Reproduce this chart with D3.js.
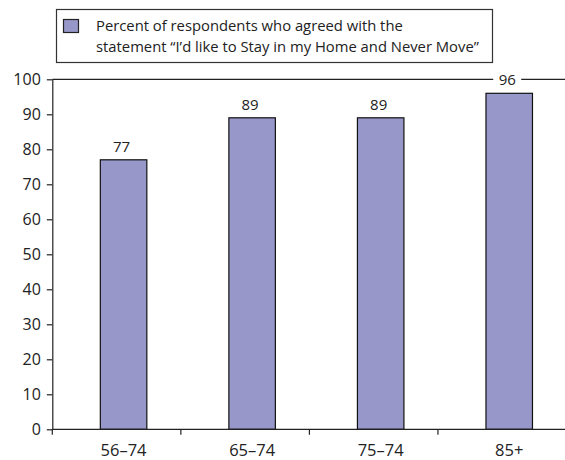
<!DOCTYPE html>
<html>
<head>
<meta charset="utf-8">
<script src="https://cdn.jsdelivr.net/npm/d3@7"></script>
<style>
  html, body { margin: 0; padding: 0; background: #fff; }
  svg { display: block; font-family: "Open Sans", "Noto Sans", sans-serif; }
</style>
</head>
<body>
<svg id="chart" width="565" height="460"></svg>
<script>
// Age groups and share of respondents agreeing (%)
const categories = ["56–74", "65–74", "75–74", "85+"];
const values = [77, 89, 89, 96];
const yTicks = [0, 10, 20, 30, 40, 50, 60, 70, 80, 90, 100];
const legendLines = [
  "Percent of respondents who agreed with the",
  "statement “I’d like to Stay in my Home and Never Move”"
];

const svg = d3.select("#chart");
const W = 565, H = 460;
const margin = { left: 52.3, right: -1.5, top: 79.3, bottom: 30.7 };
const barColor = "#9797c9";
const ink = "#222";

const x = d3.scaleBand()
  .domain(categories)
  .range([margin.left, W - margin.right]);

const y = d3.scaleLinear()
  .domain([0, 100])
  .range([H - margin.bottom, margin.top]);

const barW = 46.5;
// bars and their labels sit slightly right of the band centre
const center = c => x(c) + x.bandwidth() / 2 + 7;

// Top frame line
svg.append("line")
  .attr("x1", margin.left).attr("x2", W)
  .attr("y1", y(100)).attr("y2", y(100))
  .attr("stroke", ink).attr("stroke-width", 1.2);

// Bars
svg.append("g").selectAll("rect")
  .data(values)
  .join("rect")
  .attr("x", (d, i) => center(categories[i]) - barW / 2)
  .attr("y", d => y(d))
  .attr("width", barW)
  .attr("height", d => y(0) - y(d))
  .attr("fill", barColor)
  .attr("stroke", "#111")
  .attr("stroke-width", 1.2);

// Value labels (white backing lets them break the frame line)
const lbl = svg.append("g").selectAll("g")
  .data(values)
  .join("g")
  .attr("transform", (d, i) => `translate(${center(categories[i]) - 2},${y(d) - 8})`);
lbl.append("rect")
  .attr("x", -14).attr("y", -13).attr("width", 28).attr("height", 16)
  .attr("fill", "#fff");
lbl.append("text")
  .attr("text-anchor", "middle")
  .attr("font-size", 15)
  .attr("fill", ink)
  .text(d => d);

// Y axis
const yAxis = svg.append("g")
  .attr("transform", `translate(${margin.left},0)`)
  .call(d3.axisLeft(y).tickValues(yTicks).tickSize(5.5).tickPadding(6).tickSizeOuter(0));
yAxis.select(".domain").attr("stroke", ink).attr("stroke-width", 1.2);
yAxis.selectAll(".tick line").attr("stroke", ink).attr("stroke-width", 1.2);
yAxis.selectAll(".tick text").attr("font-size", 16).attr("fill", ink)
  .attr("font-family", "Open Sans, Noto Sans, sans-serif");

// X axis line
svg.append("line")
  .attr("x1", margin.left).attr("x2", W)
  .attr("y1", y(0)).attr("y2", y(0))
  .attr("stroke", ink).attr("stroke-width", 1.2);

// Category labels under each bar
svg.append("g").selectAll("text")
  .data(categories)
  .join("text")
  .attr("x", d => center(d))
  .attr("y", y(0) + 27)
  .attr("text-anchor", "middle")
  .attr("font-size", 16.5)
  .attr("fill", ink)
  .text(d => d);

// Band separators on the x axis
svg.append("g").selectAll("line")
  .data(categories)
  .join("line")
  .attr("x1", d => x(d)).attr("x2", d => x(d))
  .attr("y1", y(0)).attr("y2", y(0) + 5.5)
  .attr("stroke", ink).attr("stroke-width", 1.2);

// Legend
const legend = svg.append("g");
legend.append("rect")
  .attr("x", 56.5).attr("y", 9.5).attr("width", 436).attr("height", 53)
  .attr("fill", "#fff").attr("stroke", "#333").attr("stroke-width", 1.2);
legend.append("rect")
  .attr("x", 63.5).attr("y", 19.5).attr("width", 15).attr("height", 13)
  .attr("fill", barColor).attr("stroke", "#222").attr("stroke-width", 1.2);
legend.append("text")
  .attr("x", 96).attr("y", 31)
  .attr("font-size", 14.8).attr("fill", ink)
  .selectAll("tspan")
  .data(legendLines)
  .join("tspan")
  .attr("x", 96)
  .attr("dy", (d, i) => i === 0 ? 0 : 20.7)
  .text(d => d);
</script>
</body>
</html>
